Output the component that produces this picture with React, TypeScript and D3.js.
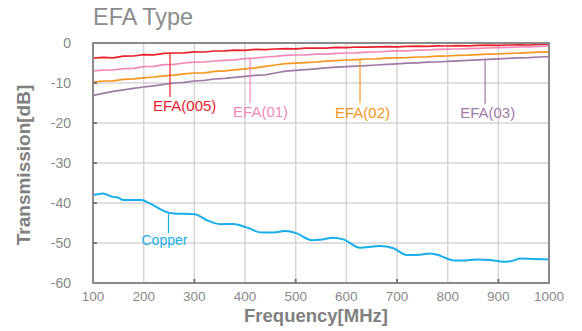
import React from "react";
import * as d3 from "d3";

const W = 582;
const H = 331;

const xTicks = [100, 200, 300, 400, 500, 600, 700, 800, 900, 1000];
const yTicks = [0, -10, -20, -30, -40, -50, -60];
const xMinorMarks = [300, 500, 700, 900];

const efaFreq = [100, 120, 140, 160, 180, 200, 220, 240, 260, 280, 300, 320, 340, 360, 380, 400, 420, 440, 460, 480, 500, 520, 540, 560, 580, 600, 620, 640, 660, 680, 700, 720, 740, 760, 780, 800, 820, 840, 860, 880, 900, 920, 940, 960, 980, 1000];

const efa005 = [-3.8, -3.6, -3.7, -3.3, -3.25, -2.9, -2.95, -2.6, -2.5, -2.45, -2.2, -2.25, -2.0, -1.95, -1.8, -1.85, -1.6, -1.65, -1.5, -1.4, -1.45, -1.3, -1.25, -1.3, -1.1, -1.15, -1.0, -1.05, -0.95, -0.9, -0.95, -0.85, -0.8, -0.85, -0.7, -0.75, -0.65, -0.7, -0.6, -0.55, -0.6, -0.5, -0.45, -0.5, -0.35, -0.3];
const efa01 = [-7.0, -6.8, -6.75, -6.4, -6.35, -5.9, -5.85, -5.4, -5.35, -5.0, -4.8, -4.75, -4.5, -4.35, -4.2, -3.9, -3.8, -3.5, -3.35, -3.1, -3.0, -2.95, -2.8, -2.8, -2.6, -2.5, -2.45, -2.3, -2.25, -2.1, -1.95, -1.95, -1.8, -1.75, -1.6, -1.55, -1.5, -1.4, -1.35, -1.25, -1.15, -1.1, -1.0, -0.95, -0.85, -0.75];
const efa02 = [-9.8, -9.5, -9.45, -9.1, -8.95, -8.7, -8.5, -8.2, -8.05, -7.7, -7.5, -7.45, -7.1, -6.95, -6.7, -6.45, -6.2, -5.85, -5.5, -5.15, -5.05, -4.9, -4.75, -4.55, -4.4, -4.25, -4.15, -4.0, -3.95, -3.8, -3.7, -3.65, -3.5, -3.45, -3.3, -3.25, -3.1, -3.05, -2.9, -2.8, -2.75, -2.6, -2.55, -2.4, -2.3, -2.2];
const efa03 = [-13.1, -12.6, -12.1, -11.7, -11.35, -11.0, -10.7, -10.35, -10.0, -9.85, -9.5, -9.35, -9.0, -8.85, -8.6, -8.35, -8.1, -7.95, -7.5, -7.05, -6.85, -6.65, -6.45, -6.2, -6.05, -5.9, -5.8, -5.65, -5.5, -5.35, -5.2, -5.05, -4.95, -4.8, -4.75, -4.6, -4.45, -4.35, -4.2, -4.1, -3.95, -3.85, -3.7, -3.65, -3.5, -3.4];

const copperFreq = [100, 120, 137, 150, 160, 196, 212, 249, 258, 301, 324, 351, 377, 403, 433, 456, 479, 502, 532, 548, 574, 594, 627, 653, 666, 693, 719, 739, 765, 778, 814, 830, 857, 883, 910, 930, 943, 969, 1000];
const copper = [-38.0, -37.6, -38.4, -38.7, -39.25, -39.25, -40.1, -42.4, -42.6, -42.8, -44.25, -45.3, -45.25, -46.1, -47.4, -47.4, -47.0, -47.6, -49.3, -49.2, -48.7, -49.1, -51.2, -50.9, -50.75, -51.3, -53.0, -53.0, -52.6, -52.9, -54.4, -54.4, -54.1, -54.25, -54.7, -54.4, -53.9, -54.0, -54.1];

const seriesNames = ["EFA(005)", "EFA(01)", "EFA(02)", "EFA(03)"];
const seriesColors = ["#e8212b", "#f28ab8", "#f7961f", "#a07aa9"];
const seriesValues = [efa005, efa01, efa02, efa03];
const labelFreq = [252, 410, 627, 874];
const labelLineEnd = [-13.5, -15.0, -15.0, -15.2];
const labelOffset = [-17, -17, -25, -25];
const labelBaseline = [-17.0, -18.5, -18.8, -18.8];

const copperColor = "#17aeea";
const copperLabelFreq = 249;
const copperLineEnd = [-42.4, -47.5];

const FONT = "'Liberation Sans', Arial, Helvetica, sans-serif";

export default function App() {
  const margin = { left: 93, right: 33, top: 43, bottom: 48 };
  const x = d3.scaleLinear().domain([100, 1000]).range([margin.left, W - margin.right]);
  const y = d3.scaleLinear().domain([-60, 0]).range([H - margin.bottom, margin.top]);

  const efaLine = d3
    .line<number>()
    .x((_, i) => x(efaFreq[i]))
    .y((d) => y(d))
    .curve(d3.curveLinear);

  const copperLine = d3
    .line<number>()
    .x((_, i) => x(copperFreq[i]))
    .y((d) => y(d))
    .curve(d3.curveMonotoneX);

  const x0 = x(100), x1 = x(1000), y0 = y(-60), y1 = y(0);
  const gray = "#8a8a8a";

  return (
    <svg width={W} height={H} style={{ position: "absolute", left: 0, top: 0 }} fontFamily={FONT}>
      <rect x={0} y={0} width={W} height={H} fill="#fff" />
      <text x={93} y={25} fontSize={23.5} fill="#8c8c8c">EFA Type</text>

      {/* grid */}
      {xTicks.slice(1, -1).map((t) => (
        <line key={"gx" + t} x1={x(t)} x2={x(t)} y1={y1} y2={y0} stroke="#d4d4d4" strokeWidth={1.5} />
      ))}
      {yTicks.slice(1, -1).map((t) => (
        <line key={"gy" + t} x1={x0} x2={x1} y1={y(t)} y2={y(t)} stroke="#d4d4d4" strokeWidth={1.5} />
      ))}

      {/* series */}
      {seriesValues.map((vals, i) => (
        <path key={seriesNames[i]} d={efaLine(vals) || ""} fill="none" stroke={seriesColors[i]} strokeWidth={1.7} />
      ))}
      <path d={copperLine(copper) || ""} fill="none" stroke={copperColor} strokeWidth={2} />

      {/* annotations */}
      {seriesNames.map((name, i) => {
        const fx = x(labelFreq[i]);
        const idx = d3.bisectLeft(efaFreq, labelFreq[i]);
        const a = Math.max(idx - 1, 0);
        const t = (labelFreq[i] - efaFreq[a]) / (efaFreq[idx] - efaFreq[a] || 1);
        const v = seriesValues[i][a] + (seriesValues[i][idx] - seriesValues[i][a]) * t;
        return (
          <g key={"ann" + name}>
            <line x1={fx} x2={fx} y1={y(v)} y2={y(labelLineEnd[i])} stroke={seriesColors[i]} strokeWidth={1.2} />
            <text x={fx + labelOffset[i]} y={y(labelBaseline[i])} fontSize={15} fill={seriesColors[i]}>{name}</text>
          </g>
        );
      })}
      <line x1={x(copperLabelFreq)} x2={x(copperLabelFreq)} y1={y(copperLineEnd[0])} y2={y(copperLineEnd[1])} stroke={copperColor} strokeWidth={1.2} />
      <text x={x(copperLabelFreq) - 27} y={y(-50.5)} fontSize={14} fill={copperColor}>Copper</text>

      {/* frame */}
      <rect x={x0} y={y1} width={x1 - x0} height={y0 - y1} fill="none" stroke={gray} strokeWidth={2} />
      {xMinorMarks.map((t) => (
        <line key={"tx" + t} x1={x(t)} x2={x(t)} y1={y0} y2={y0 - 4} stroke="#777" strokeWidth={2} />
      ))}
      {yTicks.slice(1, -1).map((t) => (
        <line key={"ty" + t} x1={x0} x2={x0 + 4} y1={y(t)} y2={y(t)} stroke="#777" strokeWidth={2} />
      ))}

      {/* tick labels */}
      {yTicks.map((t) => (
        <text key={"ly" + t} x={71} y={y(t) + 5} fontSize={14} fill="#8a8a8a" textAnchor="end">{t}</text>
      ))}
      {xTicks.map((t) => (
        <text key={"lx" + t} x={x(t)} y={301} fontSize={13.5} fill="#8a8a8a" textAnchor="middle">{t}</text>
      ))}

      {/* axis titles */}
      <text x={316} y={321.5} fontSize={18.5} fontWeight="bold" fill="#808080" textAnchor="middle">Frequency[MHz]</text>
      <text transform={`translate(30,165) rotate(-90)`} fontSize={19} fontWeight="bold" fill="#808080" textAnchor="middle">Transmission[dB]</text>
    </svg>
  );
}
